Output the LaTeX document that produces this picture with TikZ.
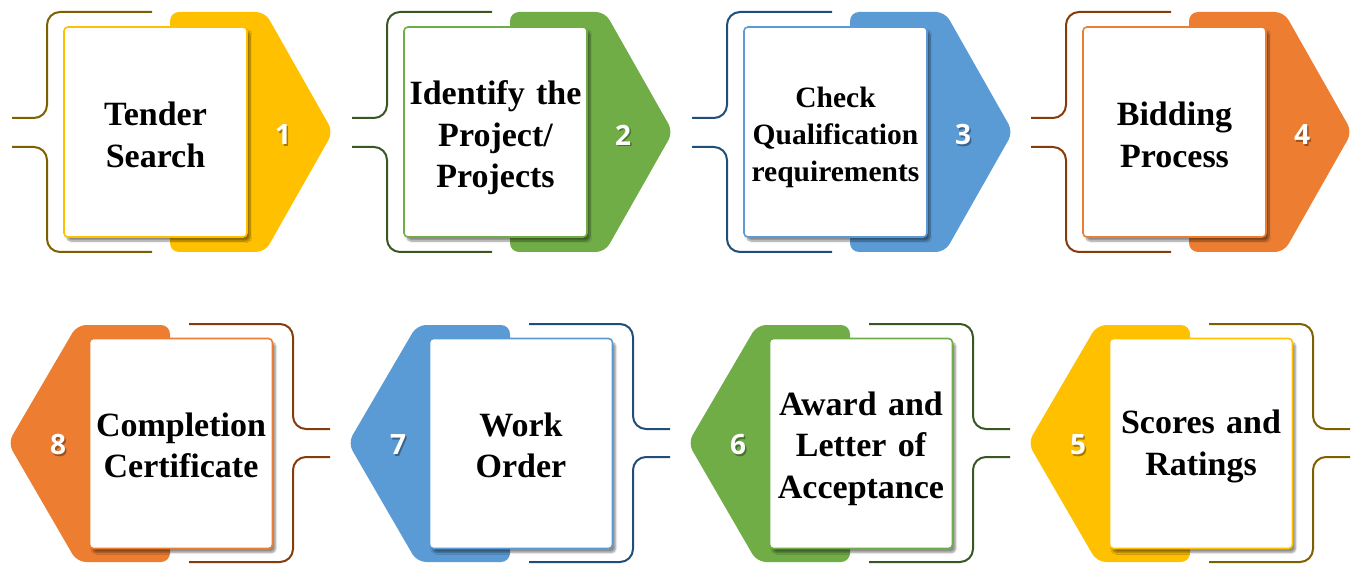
\documentclass[tikz,border=0pt]{standalone}
\usepackage{fontspec}
\setmainfont{Liberation Serif}
\newfontfamily\numfont{Open Sans}
\usetikzlibrary{shadows.blur}
\definecolor{cyel}{HTML}{FFC000}
\definecolor{dyel}{HTML}{7F6000}
\definecolor{cgrn}{HTML}{70AD47}
\definecolor{dgrn}{HTML}{385723}
\definecolor{cblu}{HTML}{5B9BD5}
\definecolor{dblu}{HTML}{1F4E79}
\definecolor{corg}{HTML}{ED7D31}
\definecolor{dorg}{HTML}{843C0C}
\tikzset{
  bracket/.style={line width=2pt, rounded corners=13pt},
  tab/.style={rounded corners=9pt},
  card/.style={draw, fill=white, line width=1.6pt, rounded corners=4pt,
    minimum width=183pt, minimum height=210pt, inner sep=0pt,
    blur shadow={shadow xshift=3pt, shadow yshift=-4pt, shadow blur steps=8, shadow opacity=45}},
  cardtext/.style={text width=180pt, align=center, inner sep=0pt, text=black,
    font=\bfseries\fontsize{34}{41.5}\selectfont},
  smalltext/.style={font=\bfseries\fontsize{29.5}{37}\selectfont},
  num/.style={text=white, inner sep=0pt, font=\numfont\bfseries\fontsize{28}{32}\selectfont},
  numshadow/.style={text=black, opacity=0.35, inner sep=0pt, font=\numfont\bfseries\fontsize{28}{32}\selectfont}
}
% #1 x offset, #2 fill, #3 dark, #4 number, #5 text, #6 extra text style, #7 text drop
\newcommand\toptile[7]{%
  \fill[#2, tab] (#1+170,12) -- (#1+265,12) -- (#1+333,132) -- (#1+265,252) -- (#1+170,252) -- cycle;
  \draw[#3, bracket] (#1+152,12) -- (#1+47,12) -- (#1+47,118) -- (#1+12,118);
  \draw[#3, bracket] (#1+12,147) -- (#1+47,147) -- (#1+47,252) -- (#1+152,252);
  \node[card, draw=#2] (b#4) at (#1+155.5,132) {};
  \node[cardtext, #6] (t#4) at ([yshift=-#7pt]b#4.center) {#5};
  \node[numshadow] (s#4) at (#1+284.5,136.5) {#4};
  \node[num] (n#4) at (#1+283,135) {#4};
}
\newcommand\bottile[7]{%
  \fill[#2, tab] (#1+170,325) -- (#1+77,325) -- (#1+8,443) -- (#1+77,562) -- (#1+170,562) -- cycle;
  \draw[#3, bracket] (#1+189,324) -- (#1+293,324) -- (#1+293,429) -- (#1+330,429);
  \draw[#3, bracket] (#1+330,457) -- (#1+293,457) -- (#1+293,562) -- (#1+189,562);
  \node[card, draw=#2] (b#4) at (#1+181,443.5) {};
  \node[cardtext, #6] (t#4) at ([yshift=-#7pt]b#4.center) {#5};
  \node[numshadow] (s#4) at (#1+59.5,446.5) {#4};
  \node[num] (n#4) at (#1+58,445) {#4};
}
\begin{document}
\begin{tikzpicture}[x=1pt, y=-1pt]
  \useasboundingbox (0,0) rectangle (1358,564);
  \toptile{0}{cyel}{dyel}{1}{Tender\\Search}{}{3}
  \toptile{340}{cgrn}{dgrn}{2}{Identify the\\Project/\\Projects}{}{6}
  \toptile{680}{cblu}{dblu}{3}{Check\\Qualification\\requirements}{smalltext}{5}
  \toptile{1019}{corg}{dorg}{4}{Bidding\\Process}{}{3}
  \bottile{0}{corg}{dorg}{8}{Completion\\Certificate}{}{2}
  \bottile{340}{cblu}{dblu}{7}{Work\\Order}{}{2}
  \bottile{680}{cgrn}{dgrn}{6}{Award and\\Letter of\\Acceptance}{}{5}
  \bottile{1020}{cyel}{dyel}{5}{Scores and\\Ratings}{}{3}
\end{tikzpicture}
\end{document}
